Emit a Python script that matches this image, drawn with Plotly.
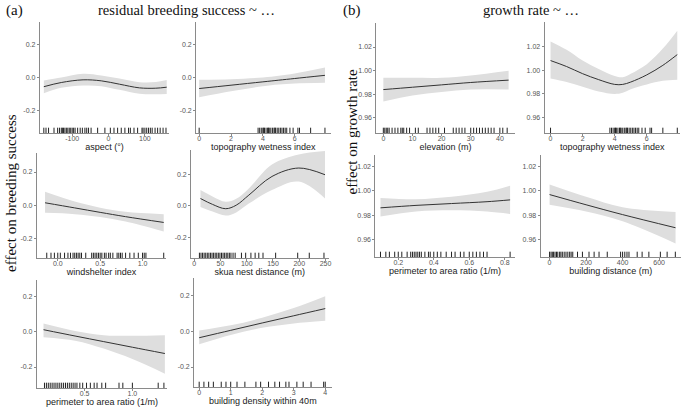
import plotly.graph_objects as go

W, H = 685, 407

# ---------------- data ----------------
# (a) residual breeding success
aspect_x = [-178, -130, -70, -20, 30, 85, 130, 160]
aspect_fit = [-0.055, -0.030, -0.014, -0.020, -0.040, -0.062, -0.064, -0.058]
aspect_lo = [-0.094, -0.062, -0.048, -0.052, -0.074, -0.097, -0.100, -0.098]
aspect_hi = [-0.018, 0.000, 0.022, 0.012, -0.006, -0.028, -0.027, -0.015]
aspect_rug = [-178, -172, -165, -150, -140, -135, -130, -127, -124, -120, -116, -112, -108,
              -104, -100, -96, -92, -85, -78, -72, -65, -60, -55, -48, -30, -10, 5, 15, 25,
              35, 45, 55, 60, 70, 80, 92, 95, 100, 105, 110, 115, 120, 128, 135, 142, 150, 158]

twi_x = [0, 2, 4, 5, 6, 7.9]
twi_fit = [-0.066, -0.046, -0.026, -0.016, -0.006, 0.013]
twi_lo = [-0.118, -0.082, -0.052, -0.042, -0.036, -0.032]
twi_hi = [-0.014, -0.010, 0.000, 0.010, 0.024, 0.060]
twi_rug = [0, 3.7, 3.8, 3.9, 4.0, 4.05, 4.1, 4.2, 4.3, 4.35, 4.4, 4.5, 4.6, 4.7, 4.75, 4.8,
           4.9, 5.0, 5.1, 5.2, 5.3, 5.4, 5.5, 5.7, 5.9, 6.2, 6.3, 7.0, 7.9]

wind_x = [-0.15, 0.2, 0.5, 0.8, 1.25]
wind_fit = [0.014, -0.017, -0.044, -0.070, -0.105]
wind_lo = [-0.047, -0.055, -0.072, -0.100, -0.160]
wind_hi = [0.080, 0.021, -0.016, -0.040, -0.055]
wind_rug = [-0.13, -0.08, -0.04, 0.0, 0.03, 0.08, 0.12, 0.15, 0.18, 0.2, 0.22, 0.24, 0.26,
            0.28, 0.33, 0.4, 0.42, 0.44, 0.46, 0.48, 0.5, 0.52, 0.55, 0.57, 0.6, 0.62, 0.65,
            0.7, 0.72, 0.74, 0.76, 0.8, 0.85, 0.9, 0.95, 1.0, 1.02, 1.04, 1.25]

skua_x = [12, 35, 60, 80, 104, 148, 199, 249]
skua_fit = [0.047, 0.010, -0.017, 0.005, 0.068, 0.185, 0.238, 0.196]
skua_lo = [-0.006, -0.035, -0.060, -0.040, 0.015, 0.100, 0.153, 0.047]
skua_hi = [0.100, 0.060, 0.026, 0.045, 0.110, 0.260, 0.323, 0.345]
skua_rug = [10, 13, 16, 19, 22, 25, 28, 31, 34, 37, 40, 43, 46, 49, 52, 55, 58, 61, 64, 67,
            70, 74, 78, 90, 98, 108, 116, 123, 131, 155, 197, 219, 247]

par_a_x = [0.07, 0.4, 0.7, 1.0, 1.34]
par_a_fit = [0.013, -0.023, -0.055, -0.087, -0.123]
par_a_lo = [-0.030, -0.050, -0.095, -0.155, -0.238]
par_a_hi = [0.048, 0.006, -0.018, -0.022, -0.018]
par_a_rug = [0.08, 0.1, 0.12, 0.14, 0.16, 0.18, 0.2, 0.22, 0.24, 0.26, 0.28, 0.3, 0.32, 0.34,
             0.36, 0.38, 0.4, 0.42, 0.45, 0.48, 0.52, 0.56, 0.6, 0.63, 0.68, 0.72, 0.86, 0.9,
             1.0, 1.27, 1.33]

dens_x = [0.0, 1.0, 2.0, 3.0, 4.0]
dens_fit = [-0.037, 0.004, 0.045, 0.085, 0.125]
dens_lo = [-0.074, -0.022, 0.018, 0.042, 0.057]
dens_hi = [0.003, 0.032, 0.074, 0.128, 0.194]
dens_rug = [0, 0.15, 0.3, 0.45, 0.7, 0.85, 1.0, 1.2, 1.45, 1.8, 1.95, 2.2, 2.4, 2.55, 2.75,
            2.85, 3.1, 3.3, 3.55, 3.95, 4.0]

# (b) growth rate
elev_x = [0, 10, 20, 30, 43]
elev_fit = [0.984, 0.986, 0.988, 0.990, 0.992]
elev_lo = [0.974, 0.979, 0.982, 0.984, 0.984]
elev_hi = [0.994, 0.994, 0.994, 0.996, 1.000]
elev_rug = [0, 0.5, 1, 1.5, 2, 3, 4, 5, 6, 6.5, 7, 8, 9, 11, 12, 15, 16, 17, 18, 19, 21, 24,
            25, 26, 27, 28, 30, 31, 32, 33, 34, 35, 36, 37, 38, 40, 41, 42.5]

twi_b_x = [0, 1, 2, 3, 4, 4.5, 5, 6, 7, 7.9]
twi_b_fit = [1.008, 1.003, 0.997, 0.992, 0.988, 0.988, 0.990, 0.996, 1.004, 1.013]
twi_b_lo = [0.993, 0.990, 0.986, 0.982, 0.980, 0.981, 0.984, 0.988, 0.991, 0.992]
twi_b_hi = [1.024, 1.017, 1.008, 1.001, 0.995, 0.994, 0.997, 1.005, 1.018, 1.033]

par_b_x = [0.1, 0.3, 0.5, 0.7, 0.83]
par_b_fit = [0.986, 0.988, 0.9895, 0.991, 0.9925]
par_b_lo = [0.979, 0.983, 0.984, 0.983, 0.981]
par_b_hi = [0.994, 0.993, 0.995, 0.999, 1.004]
par_b_rug = [0.1, 0.13, 0.15, 0.18, 0.2, 0.22, 0.25, 0.27, 0.28, 0.29, 0.3, 0.31, 0.32, 0.33,
             0.35, 0.37, 0.38, 0.4, 0.42, 0.44, 0.47, 0.5, 0.52, 0.55, 0.57, 0.6, 0.62, 0.64,
             0.66, 0.68, 0.7, 0.83]

bdist_x = [0, 200, 400, 690]
bdist_fit = [0.9968, 0.9885, 0.9805, 0.9698]
bdist_lo = [0.9885, 0.9830, 0.9750, 0.9570]
bdist_hi = [1.0050, 0.9950, 0.9865, 0.9826]
bdist_rug = [0, 8, 15, 22, 30, 38, 45, 55, 62, 70, 80, 90, 100, 110, 118, 127, 153, 180, 216,
             244, 271, 316, 389, 400, 412, 424, 435, 480, 507, 544, 607, 644, 689]

breed_ticks = [-0.2, 0.0, 0.2]
growth_ticks = [0.96, 0.98, 1.00, 1.02]

# ---------------- panel layout (pixel boxes: left, right, top, bottom) ----------------
panels = [
    dict(x=aspect_x, fit=aspect_fit, lo=aspect_lo, hi=aspect_hi, rug=aspect_rug,
         title='aspect (°)', box=(40, 170, 22, 133), xr=[-189, 167], yr=[-0.332, 0.332],
         xt=[-100, 0, 100], xfmt='{:.0f}', yt=breed_ticks, yfmt='{:.1f}'),
    dict(x=twi_x, fit=twi_fit, lo=twi_lo, hi=twi_hi, rug=twi_rug,
         title='topography wetness index', box=(197, 332, 22, 133), xr=[-0.19, 8.25],
         yr=[-0.332, 0.332], xt=[0, 2, 4, 6], xfmt='{:.0f}', yt=breed_ticks, yfmt='{:.1f}'),
    dict(x=wind_x, fit=wind_fit, lo=wind_lo, hi=wind_hi, rug=wind_rug,
         title='windshelter index', box=(37, 167, 153, 258), xr=[-0.247, 1.28],
         yr=[-0.32, 0.315], xt=[0, 0.5, 1.0], xfmt='{:.1f}', yt=breed_ticks, yfmt='{:.1f}'),
    dict(x=skua_x, fit=skua_fit, lo=skua_lo, hi=skua_hi, rug=skua_rug,
         title='skua nest distance (m)', box=(192, 330, 150, 258), xr=[-5.7, 255.7],
         yr=[-0.326, 0.351], xt=[0, 50, 100, 150, 200, 250], xfmt='{:.0f}', yt=breed_ticks,
         yfmt='{:.1f}'),
    dict(x=par_a_x, fit=par_a_fit, lo=par_a_lo, hi=par_a_hi, rug=par_a_rug,
         title='perimeter to area ratio (1/m)', box=(37, 168, 280, 388), xr=[0.0, 1.365],
         yr=[-0.32, 0.297], xt=[0.5, 1.0], xfmt='{:.1f}', yt=breed_ticks, yfmt='{:.1f}'),
    dict(x=dens_x, fit=dens_fit, lo=dens_lo, hi=dens_hi, rug=dens_rug,
         title='building density within 40m', box=(195, 333, 278, 387), xr=[-0.16, 4.2],
         yr=[-0.311, 0.295], xt=[0, 1, 2, 3, 4], xfmt='{:.0f}', yt=breed_ticks, yfmt='{:.1f}'),
    dict(x=elev_x, fit=elev_fit, lo=elev_lo, hi=elev_hi, rug=elev_rug,
         title='elevation (m)', box=(378, 517, 23, 133), xr=[-2.4, 45.1],
         yr=[0.9473, 1.0403], xt=[0, 10, 20, 30, 40], xfmt='{:.0f}', yt=growth_ticks,
         yfmt='{:.2f}'),
    dict(x=twi_b_x, fit=twi_b_fit, lo=twi_b_lo, hi=twi_b_hi, rug=twi_rug,
         title='topography wetness index', box=(547, 683, 22, 133), xr=[-0.37, 8.07],
         yr=[0.9473, 1.0403], xt=[0, 2, 4, 6], xfmt='{:.0f}', yt=growth_ticks, yfmt='{:.2f}'),
    dict(x=par_b_x, fit=par_b_fit, lo=par_b_lo, hi=par_b_hi, rug=par_b_rug,
         title='perimeter to area ratio (1/m)', box=(377, 517, 155, 257), xr=[0.071, 0.856],
         yr=[0.946, 1.029], xt=[0.2, 0.4, 0.6, 0.8], xfmt='{:.1f}', yt=growth_ticks,
         yfmt='{:.2f}'),
    dict(x=bdist_x, fit=bdist_fit, lo=bdist_lo, hi=bdist_hi, rug=bdist_rug,
         title='building distance (m)', box=(543, 684, 155, 257), xr=[-49, 720],
         yr=[0.946, 1.029], xt=[0, 200, 400, 600], xfmt='{:.0f}', yt=growth_ticks,
         yfmt='{:.2f}'),
]

AXIS_COL = '#8a8a8a'
BAND_COL = '#dedede'
TICK_FONT = dict(family='Liberation Sans, Arial, sans-serif', size=7, color='#555555')
TITLE_FONT = dict(family='Liberation Sans, Arial, sans-serif', size=9, color='#1a1a1a')
SERIF = 'Liberation Serif, Times New Roman, serif'

fig = go.Figure()
layout = {}

for i, p in enumerate(panels, start=1):
    sfx = '' if i == 1 else str(i)
    xa, ya = 'x' + sfx, 'y' + sfx
    left, right, top, bottom = p['box']
    ylo, yhi = p['yr']

    # confidence band
    fig.add_trace(go.Scatter(x=p['x'], y=p['lo'], xaxis=xa, yaxis=ya, mode='lines',
                             line=dict(width=0, shape='spline', color=BAND_COL),
                             hoverinfo='skip', showlegend=False))
    fig.add_trace(go.Scatter(x=p['x'], y=p['hi'], xaxis=xa, yaxis=ya, mode='lines',
                             line=dict(width=0, shape='spline', color=BAND_COL),
                             fill='tonexty', fillcolor=BAND_COL,
                             hoverinfo='skip', showlegend=False))
    # smooth fit
    fig.add_trace(go.Scatter(x=p['x'], y=p['fit'], xaxis=xa, yaxis=ya, mode='lines',
                             line=dict(width=1, shape='spline', color='#333333'),
                             showlegend=False))
    # rug: short ticks sitting on the x axis
    rug_y = ylo + 2.5 * (yhi - ylo) / (bottom - top)
    fig.add_trace(go.Scatter(x=p['rug'], y=[rug_y] * len(p['rug']), xaxis=xa, yaxis=ya,
                             mode='markers', cliponaxis=False,
                             marker=dict(symbol='line-ns-open', size=4, color='#222222',
                                         line=dict(width=1, color='#222222')),
                             showlegend=False))

    common = dict(showline=True, linecolor=AXIS_COL, linewidth=1, ticks='outside',
                  ticklen=2, tickcolor=AXIS_COL, showgrid=False, zeroline=False,
                  tickfont=TICK_FONT, fixedrange=True)
    layout['xaxis' + sfx] = dict(common, domain=[left / W, right / W], range=p['xr'],
                                 anchor=ya, tickvals=p['xt'], ticklabelstandoff=-3,
                                 ticktext=[p['xfmt'].format(v) for v in p['xt']],
                                 title=dict(text=p['title'], font=TITLE_FONT, standoff=2))
    layout['yaxis' + sfx] = dict(common, domain=[1 - bottom / H, 1 - top / H], range=p['yr'],
                                 anchor=xa, tickvals=p['yt'],
                                 ticktext=[p['yfmt'].format(v) for v in p['yt']])

annotations = [
    dict(text='(a)', x=4 / W, y=1 - 11 / H, xanchor='left', yanchor='middle',
         font=dict(family=SERIF, size=15, color='#111111')),
    dict(text='residual breeding success ~ …', x=187 / W, y=1 - 10 / H, xanchor='center',
         yanchor='middle', font=dict(family=SERIF, size=14.5, color='#111111')),
    dict(text='(b)', x=343 / W, y=1 - 11 / H, xanchor='left', yanchor='middle',
         font=dict(family=SERIF, size=15, color='#111111')),
    dict(text='growth rate ~ …', x=533 / W, y=1 - 10 / H, xanchor='center',
         yanchor='middle', font=dict(family=SERIF, size=14.5, color='#111111')),
    dict(text='effect on breeding success', x=11 / W, y=1 - 193 / H, textangle=-90,
         xanchor='center', yanchor='middle', font=dict(family=SERIF, size=15, color='#111111')),
    dict(text='effect on growth rate', x=354 / W, y=1 - 132 / H, textangle=-90,
         xanchor='center', yanchor='middle', font=dict(family=SERIF, size=15, color='#111111')),
]
for a in annotations:
    a.update(xref='paper', yref='paper', showarrow=False)

fig.update_layout(width=W, height=H, margin=dict(l=0, r=0, t=0, b=0),
                  paper_bgcolor='white', plot_bgcolor='white', showlegend=False,
                  annotations=annotations, **layout)

# the default page body has an 8px margin; drop it so the figure fills the window
fig.write_html("out.html", config={'displayModeBar': False},
               post_script="document.body.style.margin='0';document.body.style.overflow='hidden';")
